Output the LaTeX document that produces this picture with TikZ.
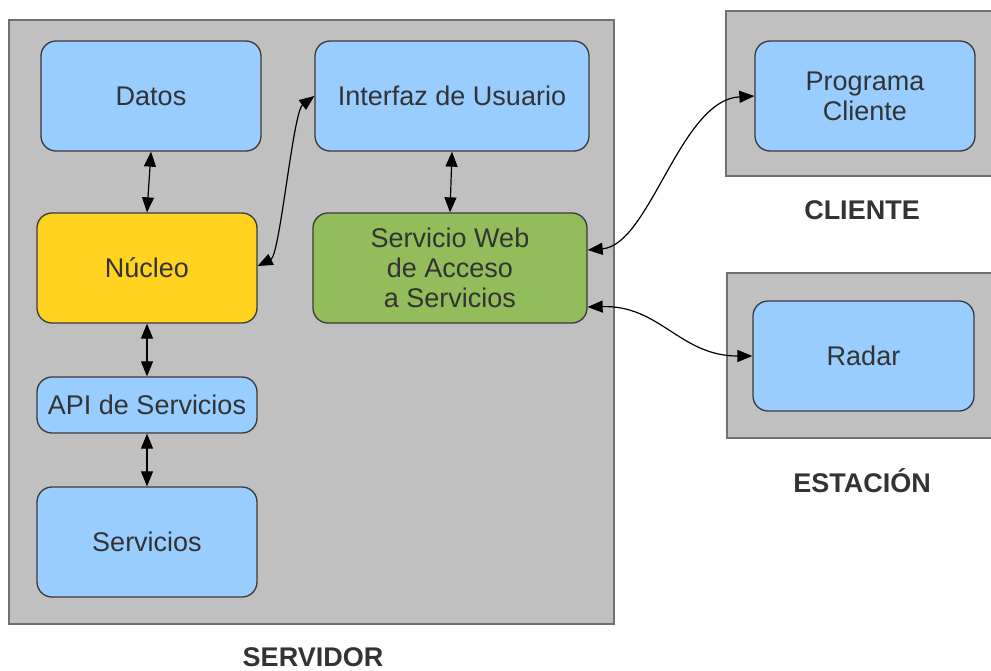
\documentclass[tikz,border=0pt]{standalone}
\usepackage{fontspec}
\setmainfont{Liberation Sans}
\usetikzlibrary{arrows.meta}
\definecolor{boxblue}{HTML}{99CCFF}
\definecolor{boxyellow}{HTML}{FFD320}
\definecolor{boxgreen}{HTML}{92BD5A}
\definecolor{panelgray}{HTML}{C0C0C0}
\definecolor{panelborder}{HTML}{707070}
\definecolor{txt}{HTML}{333333}
\definecolor{edge}{HTML}{3A3A3A}
\tikzset{
  panel/.style={draw=panelborder, fill=panelgray, line width=1.5pt},
  module/.style={draw=edge, line width=1.3pt, rounded corners=15pt, inner sep=0pt,
    minimum width=220pt, minimum height=110pt, align=center, text=txt,
    font=\fontsize{27}{30}\selectfont, fill=boxblue},
  wide/.style={minimum width=274pt},
  title/.style={text=txt, font=\fontsize{27}{30}\selectfont\bfseries, inner sep=0pt, anchor=base},
  link/.style={line width=1.2pt, {Triangle[length=15pt,width=12pt]}-{Triangle[length=15pt,width=12pt]}}
}
\begin{document}
\begin{tikzpicture}[x=1pt,y=-1pt]
\useasboundingbox (0,0) rectangle (991,670);
% panels
\draw[panel] (9,20) rectangle (614,624);
\draw[panel] (726,11) rectangle (1000,176);
\draw[panel] (727,273) rectangle (1000,438);
% modules
\node[module] (datos) at (151,96) {Datos};
\node[module, wide] (interfaz) at (452,96) {Interfaz de Usuario};
\node[module, fill=boxyellow] (nucleo) at (147,268) {Núcleo};
\node[module, wide, fill=boxgreen] (web) at (450,268) {Servicio Web\\de Acceso\\a Servicios};
\node[module, minimum height=56pt] (api) at (147,405) {API de Servicios};
\node[module] (servicios) at (147,542) {Servicios};
\node[module] (programa) at (865,96) {Programa\\Cliente};
\node[module, minimum width=221pt] (radar) at (863.5,356) {Radar};
% titles
\node[title] (tservidor) at (313,666) {SERVIDOR};
\node[title] (tcliente) at (862,219) {CLIENTE};
\node[title] (testacion) at (862,492) {ESTACIÓN};
% connectors
\draw[link] (datos.south) -- (nucleo.north);
\draw[link] (interfaz.south) -- (web.north);
\draw[link] (nucleo.south) -- (api.north);
\draw[link] (api.south) -- (servicios.north);
\draw[link] ([yshift=2pt]nucleo.east) .. controls (280,255) and (293,112) .. (interfaz.west);
\draw[link] ([yshift=18pt]web.east) .. controls (650,245) and (680,100) .. (programa.west);
\draw[link] ([yshift=-39pt]web.east) .. controls (660,305) and (680,356) .. (radar.west);
\end{tikzpicture}
\end{document}
